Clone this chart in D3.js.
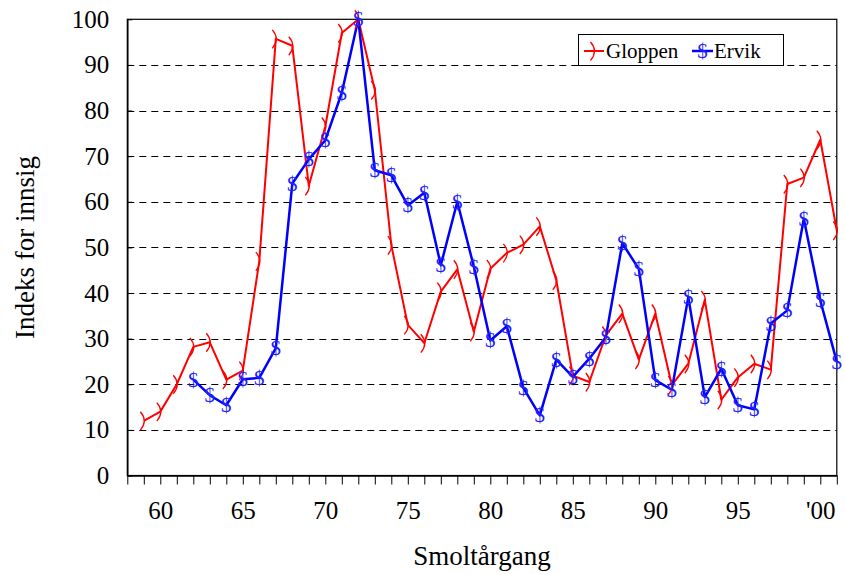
<!DOCTYPE html>
<html>
<head>
<meta charset="utf-8">
<script src="https://cdn.jsdelivr.net/npm/d3@7"></script>
<style>
  html, body { margin: 0; padding: 0; background: #fff; }
  svg { display: block; }
  text { font-family: "Liberation Serif", "Times New Roman", serif; }
</style>
</head>
<body>
<svg id="chart" width="845" height="574"></svg>
<script>
// ---- data ----
const years = [59,60,61,62,63,64,65,66,67,68,69,70,71,72,73,74,75,76,77,78,79,80,
               81,82,83,84,85,86,87,88,89,90,91,92,93,94,95,96,97,98,99,100,101];
const gloppen = [12,14,20,28.2,29.2,21,23,47,95.7,94.2,63.5,76.5,97,100,84.5,50.5,33,29,40.3,45.2,31.5,45.3,
                 48.8,50.6,54.6,42.8,21.9,20.5,30.7,35.5,25.4,35.5,19.8,24.5,38.5,16.6,21.5,24.5,23.2,63.9,65.3,73.6,53.7];
const ervik = [null,null,null,21,17.6,15.4,21.1,21.4,27.9,64,69.3,73.5,83.9,100,66.9,65.8,59.2,62,46.1,60,45.8,29.6,
               32.7,19.2,13.2,25.4,21.6,25.6,30.3,50.9,45.3,20.9,18.8,39.1,17.2,23.4,15.4,14.5,33.3,36.2,56.3,38.4,24.9];
const xTickLabels = {60:"60",65:"65",70:"70",75:"75",80:"80",85:"85",90:"90",95:"95",100:"'00"};
const yTicks = [0,10,20,30,40,50,60,70,80,90,100];
const seriesNames = ["Gloppen","Ervik"];

// ---- layout ----
const svg = d3.select("#chart");
const pLeft = 127.3, pRight = 836.8, pTop = 19.3, pBottom = 475.5;
const x = d3.scaleLinear().domain([58,101]).range([pLeft,pRight]);
const y = d3.scaleLinear().domain([0,100]).range([pBottom,pTop]);

// gridlines
svg.append("g").selectAll("line").data(yTicks.filter(d => d > 0 && d < 100)).join("line")
  .attr("x1", pLeft).attr("x2", pRight)
  .attr("y1", d => Math.round(y(d)) + 0.5).attr("y2", d => Math.round(y(d)) + 0.5)
  .attr("stroke", "#000").attr("stroke-width", 1).attr("stroke-dasharray", "7,5");

// frame
svg.append("rect").attr("x", pLeft).attr("y", pTop).attr("width", pRight-pLeft).attr("height", pBottom-pTop)
  .attr("fill", "none").attr("stroke", "#000").attr("stroke-width", 1.2);

// x axis
const xAxis = d3.axisBottom(x)
  .tickValues(d3.range(58, 102))
  .tickFormat(d => xTickLabels[d] || "")
  .tickSizeInner(9).tickSizeOuter(0);
const gx = svg.append("g").attr("transform", `translate(0,${pBottom})`).call(xAxis);
gx.select(".domain").attr("stroke", "#000").attr("stroke-width", 1.5);
gx.selectAll(".tick line").attr("stroke", "#000").attr("stroke-width", 1);
gx.selectAll(".tick text").attr("y", 43).attr("dy", 0)
  .style("font-family", "'Liberation Serif', serif").style("font-size", "25px").attr("fill", "#000");

// y axis
const yAxis = d3.axisLeft(y).tickValues(yTicks).tickFormat(d3.format("d"))
  .tickSizeInner(-5).tickSizeOuter(0).tickPadding(18);
const gy = svg.append("g").attr("transform", `translate(${pLeft},0)`).call(yAxis);
gy.select(".domain").attr("stroke", "#000").attr("stroke-width", 1.5);
gy.selectAll(".tick line").attr("stroke", "#000");
gy.selectAll(".tick text")
  .style("font-family", "'Liberation Serif', serif").style("font-size", "25px").attr("fill", "#000");

// axis titles
svg.append("text").attr("transform", `translate(34,${(pTop+pBottom)/2}) rotate(-90)`)
  .attr("text-anchor", "middle").style("font-size", "27px").text("Indeks for innsig");
svg.append("text").attr("x", (pLeft+pRight)/2).attr("y", 565)
  .attr("text-anchor", "middle").style("font-size", "27px").text("Smoltårgang");

// series
const gData = years.map((yr,i) => ({yr, v: gloppen[i]}));
const eData = years.map((yr,i) => ({yr, v: ervik[i]})).filter(d => d.v != null);
const line = d3.line().x(d => x(d.yr)).y(d => y(d.v));

svg.append("path").datum(gData).attr("d", line)
  .attr("fill", "none").attr("stroke", "#ff0000").attr("stroke-width", 2).attr("stroke-linejoin", "round");
svg.append("path").datum(eData).attr("d", line)
  .attr("fill", "none").attr("stroke", "#0000ff").attr("stroke-width", 2.5).attr("stroke-linejoin", "round");

// markers
const parenPath = (cx, cy) => `M${cx-3.5},${cy-9} Q${cx+4.5},${cy} ${cx-3.5},${cy+9.5}`;
svg.append("g").selectAll("path").data(gData).join("path")
  .attr("d", d => parenPath(x(d.yr), y(d.v)))
  .attr("fill", "none").attr("stroke", "#ff0000").attr("stroke-width", 1.3);
svg.append("g").selectAll("text").data(eData).join("text")
  .attr("x", d => x(d.yr)).attr("y", d => y(d.v) + 7)
  .attr("text-anchor", "middle").style("font-size", "21px").attr("fill", "#2020ff").text("$");

// legend
const lg = svg.append("g");
lg.append("rect").attr("x", 578.5).attr("y", 34.5).attr("width", 205).attr("height", 31)
  .attr("fill", "#fff").attr("stroke", "#000").attr("stroke-width", 1);
lg.append("line").attr("x1", 584).attr("x2", 604).attr("y1", 51).attr("y2", 51)
  .attr("stroke", "#ff0000").attr("stroke-width", 2);
lg.append("path").attr("d", parenPath(594, 51)).attr("fill", "none").attr("stroke", "#ff0000").attr("stroke-width", 1.3);
lg.append("text").attr("x", 606).attr("y", 58).style("font-size", "21px").text(seriesNames[0]);
lg.append("line").attr("x1", 692).attr("x2", 713).attr("y1", 51).attr("y2", 51)
  .attr("stroke", "#0000ff").attr("stroke-width", 2.5);
lg.append("text").attr("x", 702.5).attr("y", 58).attr("text-anchor", "middle")
  .style("font-size", "21px").attr("fill", "#2020ff").text("$");
lg.append("text").attr("x", 714).attr("y", 58).style("font-size", "21px").text(seriesNames[1]);
</script>
</body>
</html>
